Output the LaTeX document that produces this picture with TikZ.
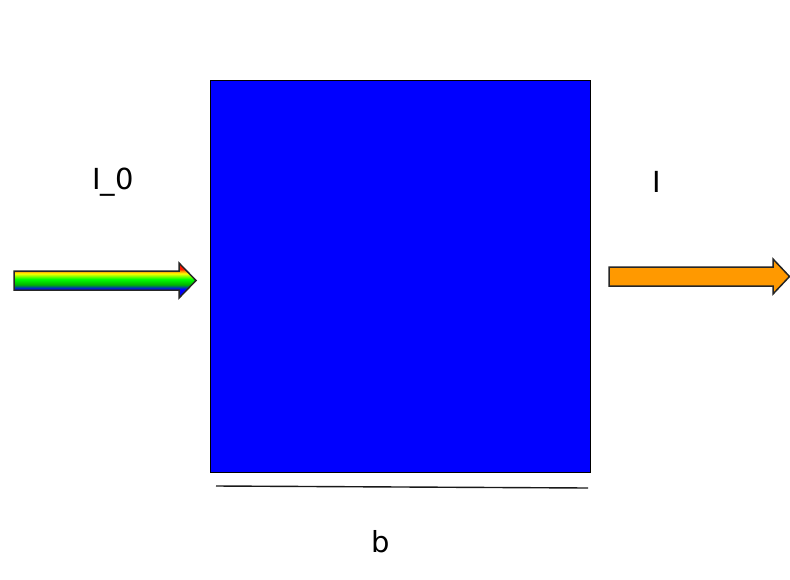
\documentclass[tikz,border=0pt]{standalone}
\usepackage{fontspec}
\setmainfont{DejaVu Sans}
\usetikzlibrary{shadings}
\pgfdeclareverticalshading{rainbowv}{100bp}{
  color(0bp)=(blue!80!black);
  color(38bp)=(blue);
  color(44bp)=(green!70!black);
  color(52bp)=(green);
  color(60bp)=(yellow);
  color(64bp)=(orange);
  color(66bp)=(red!80!orange);
  color(100bp)=(red!80!orange)}
\definecolor{boxblue}{RGB}{0,0,255}
\definecolor{arrorange}{RGB}{255,153,0}
\tikzset{
  lbl/.style={font=\fontsize{29}{34}\selectfont, inner sep=0pt},
  boxstyle/.style={draw=black, fill=boxblue, line width=1.2pt},
  arrbody/.style={draw=black!85, line width=1.5pt, line join=miter},
}
\begin{document}
\begin{tikzpicture}[x=1pt,y=-1pt]
\useasboundingbox[fill=white] (0,0) rectangle (790,579);
% sample block
\node[boxstyle, minimum width=380pt, minimum height=392pt, inner sep=0pt, anchor=north west] (box) at (210,80) {};
% incoming rainbow arrow
\path[shading=rainbowv] (14,271) -- (179,271) -- (179,263) -- (196,280.5) -- (179,298) -- (179,290) -- (14,290) -- cycle;
\draw[arrbody] (14,271) -- (179,271) -- (179,263) -- (196,280.5) -- (179,298) -- (179,290) -- (14,290) -- cycle;
% outgoing orange arrow
\draw[arrbody, fill=arrorange] (609,267) -- (773,267) -- (773,259) -- (789.5,276.5) -- (773,294) -- (773,286) -- (609,286) -- cycle;
% thickness line
\coordinate (bl) at (216,486);
\coordinate (br) at (588,488);
\draw[black!90, line width=1.4pt] (bl) -- (br);
% labels
\node[lbl] (i0) at (113,182) {I\_0};
\node[lbl] (i) at (657,182) {I};
\node[lbl] (b) at (381,542) {b};
\end{tikzpicture}
\end{document}
